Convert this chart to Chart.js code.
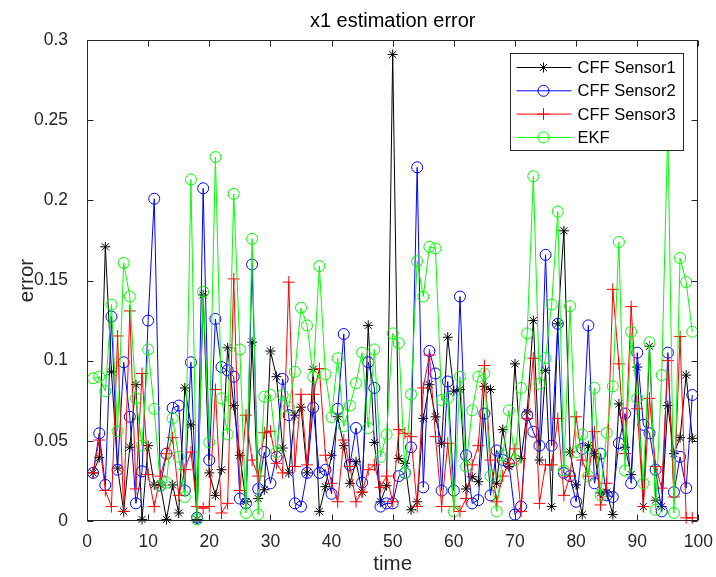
<!DOCTYPE html>
<html><head><meta charset="utf-8">
<script src="https://cdn.jsdelivr.net/npm/chart.js@4"></script>
<style>html,body{margin:0;padding:0;background:#fff;overflow:hidden}#wrap{width:716px;height:577px}</style>
</head><body><div id="wrap"><canvas id="c" width="716" height="577"></canvas></div>
<script>
const time = [1,2,3,4,5,6,7,8,9,10,11,12,13,14,15,16,17,18,19,20,21,22,23,24,25,26,27,28,29,30,31,32,33,34,35,36,37,38,39,40,41,42,43,44,45,46,47,48,49,50,51,52,53,54,55,56,57,58,59,60,61,62,63,64,65,66,67,68,69,70,71,72,73,74,75,76,77,78,79,80,81,82,83,84,85,86,87,88,89,90,91,92,93,94,95,96,97,98,99];
const cffSensor1 = [0.030,0.0395,0.171,0.093,0.033,0.006,0.046,0.085,0.001,0.047,0.0225,0.0225,0.001,0.0225,0.005,0.083,0.060,0.001,0.141,0.030,0.016,0.032,0.108,0.072,0.041,0.012,0.1115,0.014,0.0195,0.106,0.090,0.0455,0.030,0.066,0.071,0.030,0.0946,0.006,0.0214,0.041,0.065,0.047,0.0235,0.037,0.018,0.122,0.049,0.012,0.022,0.291,0.039,0.036,0.007,0.012,0.064,0.085,0.065,0.0485,0.1146,0.081,0.082,0.020,0.0276,0.0245,0.084,0.082,0.0235,0.057,0.034,0.098,0.039,0.068,0.125,0.038,0.094,0.009,0.123,0.181,0.043,0.0225,0.004,0.047,0.042,0.0175,0.018,0.004,0.073,0.046,0.029,0.096,0.009,0.109,0.013,0.009,0.072,0.042,0.052,0.091,0.0516];
const cffSensor2 = [0.030,0.0547,0.0225,0.1275,0.032,0.099,0.065,0.011,0.031,0.125,0.201,0.022,0.042,0.0705,0.072,0.019,0.099,0.002,0.2075,0.038,0.126,0.096,0.094,0.090,0.014,0.011,0.160,0.020,0.043,0.0235,0.040,0.0886,0.066,0.011,0.009,0.030,0.0707,0.030,0.032,0.017,0.070,0.1166,0.035,0.058,0.024,0.099,0.083,0.009,0.011,0.011,0.028,0.030,0.046,0.2206,0.021,0.106,0.092,0.019,0.087,0.019,0.140,0.041,0.011,0.013,0.067,0.016,0.044,0.038,0.036,0.004,0.009,0.066,0.0557,0.047,0.166,0.047,0.123,0.030,0.028,0.012,0.045,0.122,0.0235,0.042,0.016,0.015,0.0485,0.067,0.0235,0.105,0.060,0.0547,0.032,0.006,0.105,0.018,0.040,0.0205,0.0786];
const cffSensor3 = [0.030,0.0505,0.019,0.009,0.1154,0.006,0.131,0.020,0.092,0.029,0.009,0.028,0.042,0.052,0.016,0.032,0.043,0.009,0.008,0.009,0.082,0.005,0.011,0.151,0.019,0.066,0.038,0.028,0.055,0.056,0.036,0.030,0.149,0.034,0.079,0.035,0.079,0.095,0.041,0.0235,0.012,0.0505,0.034,0.012,0.018,0.032,0.035,0.021,0.028,0.012,0.057,0.0547,0.0526,0.009,0.083,0.1035,0.0526,0.009,0.0485,0.009,0.006,0.014,0.035,0.047,0.097,0.038,0.012,0.028,0.036,0.045,0.006,0.064,0.1015,0.011,0.035,0.035,0.064,0.016,0.028,0.065,0.038,0.028,0.0557,0.010,0.0235,0.1445,0.098,0.042,0.1337,0.070,0.009,0.0765,0.034,0.0205,0.100,0.015,0.115,0.002,0.002];
const ekf = [0.089,0.090,0.081,0.135,0.056,0.161,0.140,0.0765,0.047,0.107,0.070,0.022,0.024,0.064,0.040,0.015,0.213,0.001,0.143,0.049,0.227,0.0765,0.054,0.204,0.107,0.005,0.176,0.004,0.0775,0.0786,0.043,0.0786,0.071,0.093,0.133,0.122,0.090,0.159,0.0915,0.0647,0.1015,0.059,0.072,0.086,0.105,0.058,0.107,0.040,0.054,0.117,0.111,0.030,0.079,0.162,0.140,0.171,0.170,0.0755,0.0765,0.006,0.090,0.034,0.069,0.090,0.092,0.028,0.006,0.041,0.069,0.038,0.083,0.117,0.215,0.0855,0.1015,0.135,0.193,0.0315,0.134,0.043,0.054,0.028,0.083,0.016,0.055,0.084,0.174,0.0315,0.118,0.0765,0.0235,0.1115,0.007,0.091,0.245,0.005,0.164,0.149,0.118];
const seriesNames = ['CFF Sensor1','CFF Sensor2','CFF Sensor3','EKF'];
const xTickLabels = ['0','10','20','30','40','50','60','70','80','90','100'];
const yTickLabels = ['0','0.05','0.1','0.15','0.2','0.25','0.3'];
const chartTitle = 'x1 estimation error';
const xAxisTitle = 'time';
const yAxisTitle = 'error';

const FONT = "'Liberation Sans', Arial, Helvetica, sans-serif";
const AXIS_COLOR = '#262626';
const styles = [
  {color:'#000000', pointStyle:'star', radius:5},
  {color:'#0000ff', pointStyle:'circle', radius:5.5},
  {color:'#ff0000', pointStyle:'cross', radius:6},
  {color:'#00ff00', pointStyle:'circle', radius:5.5}
];
const seriesValues = [cffSensor1, cffSensor2, cffSensor3, ekf];

const datasets = seriesValues.map((vals, k) => ({
  label: seriesNames[k],
  data: vals.map((v, i) => ({x: time[i], y: v})),
  borderColor: styles[k].color,
  backgroundColor: 'rgba(0,0,0,0)',
  pointBorderColor: styles[k].color,
  pointBackgroundColor: 'rgba(0,0,0,0)',
  pointStyle: styles[k].pointStyle,
  pointRadius: styles[k].radius,
  pointBorderWidth: 1,
  borderWidth: 1,
  tension: 0,
  clip: false,
  order: 4 - k
}));

const framePlugin = {
  id: 'frame',
  afterDraw(chart) {
    const {ctx, chartArea, scales} = chart;
    const L = Math.round(chartArea.left) + 0.5, R = Math.round(chartArea.right) - 0.5;
    const T = Math.round(chartArea.top) + 0.5, B = Math.round(chartArea.bottom) - 0.5;
    ctx.save();
    ctx.strokeStyle = AXIS_COLOR; ctx.lineWidth = 1;
    ctx.strokeRect(L, T, R - L, B - T);
    const tl = 6;
    ctx.beginPath();
    scales.x.ticks.forEach(t => {
      const p = Math.round(scales.x.getPixelForValue(t.value)) + 0.5;
      ctx.moveTo(p, B); ctx.lineTo(p, B - tl);
      ctx.moveTo(p, T); ctx.lineTo(p, T + tl);
    });
    scales.y.ticks.forEach(t => {
      const p = Math.round(scales.y.getPixelForValue(t.value)) + 0.5;
      ctx.moveTo(L, p); ctx.lineTo(L + tl, p);
      ctx.moveTo(R, p); ctx.lineTo(R - tl, p);
    });
    ctx.stroke();
    // title
    ctx.fillStyle = '#000';
    ctx.font = '20px ' + FONT;
    ctx.textAlign = 'center'; ctx.textBaseline = 'middle';
    ctx.fillText(chartTitle, (chartArea.left + chartArea.right) / 2, T - 19);
    // legend
    const bw = 173, bh = 97;
    const bx = Math.round(chartArea.right - 15 - bw) + 0.5, by = Math.round(chartArea.top + 13) + 0.5;
    ctx.fillStyle = '#fff';
    ctx.fillRect(bx, by, bw, bh);
    ctx.strokeStyle = '#262626';
    ctx.strokeRect(bx, by, bw, bh);
    ctx.font = '16.5px ' + FONT;
    ctx.textAlign = 'left';
    seriesNames.forEach((name, k) => {
      const yy = by + 14 + k * 23.3;
      ctx.strokeStyle = styles[k].color; ctx.lineWidth = 1;
      ctx.beginPath(); ctx.moveTo(bx + 6, yy); ctx.lineTo(bx + 61, yy); ctx.stroke();
      ctx.fillStyle = 'rgba(0,0,0,0)';
      Chart.helpers.drawPoint(ctx, {pointStyle: styles[k].pointStyle, radius: styles[k].radius, rotation: 0, borderWidth: 1}, bx + 33, yy);
      ctx.fillStyle = '#000';
      ctx.fillText(name, bx + 67, yy + 1);
    });
    ctx.restore();
  }
};

new Chart(document.getElementById('c'), {
  type: 'line',
  data: {datasets},
  options: {
    responsive: false,
    animation: false,
    devicePixelRatio: 1,
    layout: {padding: {top: 40, right: 17, left: 0, bottom: 0}},
    plugins: {legend: {display: false}, title: {display: false}, tooltip: {enabled: false}},
    scales: {
      x: {
        type: 'linear', min: 0, max: 100,
        afterFit(s) { s.height = 56; },
        grid: {display: false},
        border: {display: false},
        ticks: {stepSize: 10, padding: 3, color: AXIS_COLOR, font: {family: FONT, size: 17.5},
          maxRotation: 0, autoSkip: false,
          callback: (v, i) => xTickLabels[i]},
        title: {display: true, text: xAxisTitle, color: AXIS_COLOR, font: {family: FONT, size: 20.5}, padding: {top: 0, bottom: 0}}
      },
      y: {
        type: 'linear', min: 0, max: 0.3,
        afterFit(s) { s.width = 87; },
        grid: {display: false},
        border: {display: false},
        ticks: {stepSize: 0.05, padding: 11, color: AXIS_COLOR, font: {family: FONT, size: 17.5},
          autoSkip: false,
          callback: (v, i) => yTickLabels[i]},
        title: {display: true, text: yAxisTitle, color: AXIS_COLOR, font: {family: FONT, size: 20.5}, padding: {top: 15, bottom: 0}}
      }
    }
  },
  plugins: [framePlugin]
});
</script>
</body></html>
